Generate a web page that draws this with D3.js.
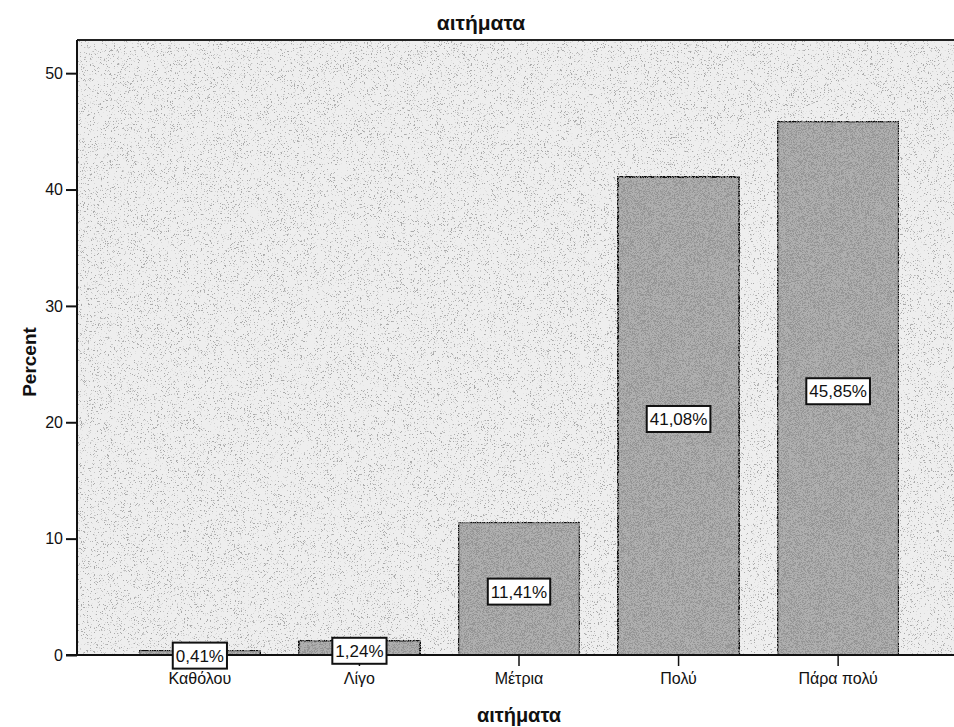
<!DOCTYPE html>
<html>
<head>
<meta charset="utf-8">
<script src="https://cdn.jsdelivr.net/npm/d3@7"></script>
<style>
  html, body { margin: 0; padding: 0; background: #fff; }
  svg { display: block; }
  text { font-family: "Liberation Sans", Arial, sans-serif; fill: #111; }
</style>
</head>
<body>
<div id="chart"></div>
<script>
"use strict";

// categories on the x axis
var categories = ["Καθόλου", "Λίγο", "Μέτρια", "Πολύ", "Πάρα πολύ"];
// percent per category
var percents = [0.41, 1.24, 11.41, 41.08, 45.85];
// y axis ticks
var yTicks = [0, 10, 20, 30, 40, 50];

var chartTitle = "αιτήματα";
var xTitle = "αιτήματα";
var yTitle = "Percent";

var width = 954,
    height = 727;

// plot frame (runs off the right side, as in the scan)
var plot = { left: 77, right: 961, top: 40, bottom: 655 };

var svg = d3.select("#chart").append("svg")
  .attr("width", width)
  .attr("height", height);

// stipple texture, like the scanned print
var defs = svg.append("defs");
function stipple(id, freq, slope, offset, seed, ink) {
  var f = defs.append("filter").attr("id", id)
    .attr("x", 0).attr("y", 0).attr("width", 1).attr("height", 1);
  f.append("feTurbulence")
    .attr("type", "fractalNoise")
    .attr("baseFrequency", freq)
    .attr("numOctaves", 2)
    .attr("seed", seed)
    .attr("result", "noise");
  f.append("feColorMatrix")
    .attr("in", "noise")
    .attr("type", "matrix")
    .attr("values", "0 0 0 0 " + ink + "  0 0 0 0 " + ink + "  0 0 0 0 " + ink + "  " + slope + " 0 0 0 " + offset)
    .attr("result", "dots");
  f.append("feComposite")
    .attr("in", "dots").attr("in2", "SourceGraphic")
    .attr("operator", "in").attr("result", "clipped");
  var m = f.append("feMerge");
  m.append("feMergeNode").attr("in", "SourceGraphic");
  m.append("feMergeNode").attr("in", "clipped");
}
stipple("bgNoise", 1.7, 10, -6.2, 3, 0.4);
stipple("barNoise", 1.7, 7, -3.2, 7, 0.3);

var x = d3.scaleBand()
  .domain(categories)
  .range([plot.left, plot.right])
  .paddingInner(0.24)
  .paddingOuter(0.39);

var y = d3.scaleLinear()
  .domain([0, 52.85])
  .range([plot.bottom, plot.top]);

var fmt = function (v) { return d3.format(".2f")(v).replace(".", ",") + "%"; };

// plot background
svg.append("rect")
  .attr("x", plot.left)
  .attr("y", plot.top)
  .attr("width", plot.right - plot.left)
  .attr("height", plot.bottom - plot.top)
  .attr("fill", "#eeeeee")
  .attr("filter", "url(#bgNoise)");

// frame lines (top and left)
svg.append("line")
  .attr("x1", plot.left).attr("x2", plot.right)
  .attr("y1", plot.top).attr("y2", plot.top)
  .attr("stroke", "#222").attr("stroke-width", 2);
svg.append("line")
  .attr("x1", plot.left).attr("x2", plot.left)
  .attr("y1", plot.top).attr("y2", plot.bottom)
  .attr("stroke", "#111").attr("stroke-width", 2);

// bars
var data = categories.map(function (c, i) { return { cat: c, value: percents[i] }; });

svg.append("g").selectAll("rect")
  .data(data)
  .enter()
  .append("rect")
  .attr("x", function (d) { return x(d.cat); })
  .attr("y", function (d) { return y(d.value); })
  .attr("width", x.bandwidth())
  .attr("height", function (d) { return y(0) - y(d.value); })
  .attr("fill", "#b0b0b0")
  .attr("stroke", "#111")
  .attr("stroke-width", 2)
  .attr("filter", "url(#barNoise)");

// y axis
var yAxis = d3.axisLeft(y).tickValues(yTicks).tickSize(11).tickPadding(3).tickFormat(d3.format("d"));
var gy = svg.append("g")
  .attr("transform", "translate(" + plot.left + ",0)")
  .call(yAxis);
gy.select(".domain").remove();
gy.selectAll(".tick line").attr("stroke", "#111").attr("stroke-width", 2);
gy.selectAll(".tick text")
  .style("font-size", "16px")
  .style("font-family", "'Liberation Sans', Arial, sans-serif")
  .attr("fill", "#111");

// x axis (baseline + category ticks)
var xAxis = d3.axisBottom(x).tickSize(11).tickPadding(7);
var gx = svg.append("g")
  .attr("transform", "translate(0," + plot.bottom + ")")
  .call(xAxis);
gx.select(".domain")
  .attr("d", "M" + (plot.left - 11) + ",0H" + width)
  .attr("stroke", "#111").attr("stroke-width", 2);
gx.selectAll(".tick line").attr("stroke", "#111").attr("stroke-width", 1.5);
gx.selectAll(".tick text")
  .style("font-size", "16px")
  .style("font-family", "'Liberation Sans', Arial, sans-serif")
  .attr("fill", "#111");

// value labels in white boxes at the middle of each bar
var lab = svg.append("g").selectAll("g")
  .data(data)
  .enter()
  .append("g")
  .attr("transform", function (d) {
    return "translate(" + (x(d.cat) + x.bandwidth() / 2) + "," + ((y(d.value) + y(0)) / 2 + 3) + ")";
  });

lab.append("text")
  .attr("text-anchor", "middle")
  .attr("dy", "0.36em")
  .style("font-size", "17px")
  .text(function (d) { return fmt(d.value); })
  .each(function () {
    var b = this.getBBox();
    d3.select(this.parentNode).insert("rect", "text")
      .attr("x", b.x - 3)
      .attr("y", -13)
      .attr("width", b.width + 6)
      .attr("height", 26)
      .attr("fill", "#fff")
      .attr("stroke", "#111")
      .attr("stroke-width", 2);
  });

// titles
svg.append("text")
  .attr("x", 481)
  .attr("y", 30)
  .attr("text-anchor", "middle")
  .style("font-size", "21px")
  .style("font-weight", "bold")
  .text(chartTitle);

svg.append("text")
  .attr("x", (plot.left + plot.right) / 2)
  .attr("y", 722)
  .attr("text-anchor", "middle")
  .style("font-size", "20px")
  .style("font-weight", "bold")
  .text(xTitle);

svg.append("text")
  .attr("transform", "translate(36," + 362 + ") rotate(-90)")
  .attr("text-anchor", "middle")
  .style("font-size", "19px")
  .style("font-weight", "bold")
  .text(yTitle);
</script>
</body>
</html>
